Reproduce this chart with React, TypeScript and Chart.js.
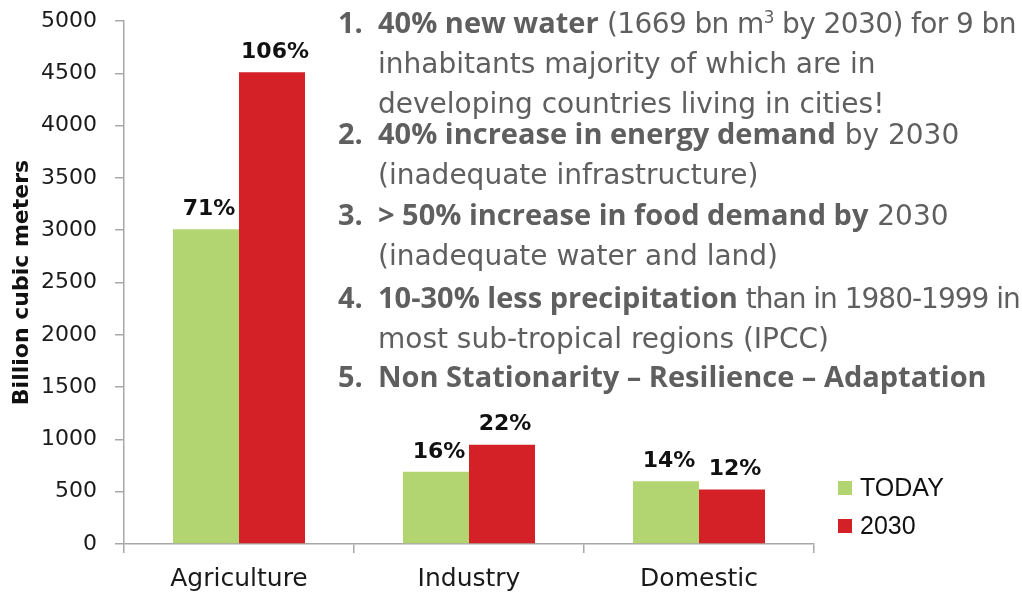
import React, { useEffect, useRef } from "react";
import { Chart, registerables } from "chart.js";

Chart.register(...registerables);

// ---- data ----
const categories = ["Agriculture", "Industry", "Domestic"];
const seriesNames = ["TODAY", "2030"];
const todayValues = [3010, 690, 600];
const year2030Values = [4510, 950, 520];
const todayShares = ["71%", "16%", "14%"];
const year2030Shares = ["106%", "22%", "12%"];
const yMin = 0;
const yMax = 5000;
const yStep = 500;

const GREEN = "#b2d572";
const RED = "#d42027";
const AXIS = "#a8a8a8";
const TEXT_GRAY = "#5f5f5f";

const shareLabels = [todayShares, year2030Shares];

const barLabelPlugin = {
  id: "barLabels",
  afterDatasetsDraw(chart: any) {
    const ctx = chart.ctx;
    ctx.save();
    ctx.font = "bold 22px 'DejaVu Sans'";
    ctx.fillStyle = "#111111";
    ctx.textAlign = "center";
    ctx.textBaseline = "middle";
    chart.data.datasets.forEach((_ds: any, di: number) => {
      const meta = chart.getDatasetMeta(di);
      meta.data.forEach((el: any, i: number) => {
        const txt = shareLabels[di][i];
        ctx.fillText(txt, el.x + 3, el.y - 20);
      });
    });
    ctx.restore();
  },
};

const legendPlugin = {
  id: "customLegend",
  afterDraw(chart: any) {
    const ctx = chart.ctx;
    const area = chart.chartArea;
    const x0 = area.right + 24;
    const rows = [area.bottom - 56, area.bottom - 18];
    ctx.save();
    ctx.font = "25px 'Liberation Sans'";
    ctx.textBaseline = "middle";
    ctx.textAlign = "left";
    chart.data.datasets.forEach((ds: any, di: number) => {
      const cy = rows[di];
      ctx.fillStyle = ds.backgroundColor;
      ctx.fillRect(x0, cy - 7, 14, 14);
      ctx.fillStyle = "#111111";
      ctx.fillText(ds.label, x0 + 22, cy + 1);
    });
    ctx.restore();
  },
};

const regular = { fontFamily: "'DejaVu Sans'", fontWeight: 400, fontSize: 28 } as const;
const bold = { fontFamily: "'Open Sans'", fontWeight: 700, fontSize: 29 } as const;

function Item(props: { num: string; top: number; children: React.ReactNode }) {
  return (
    <div
      style={{
        position: "absolute",
        left: 338,
        top: props.top,
        display: "flex",
        whiteSpace: "nowrap",
        color: TEXT_GRAY,
        lineHeight: "36px",
      }}
    >
      <span style={{ ...bold, width: 40, display: "inline-block" }}>{props.num}</span>
      <div>{props.children}</div>
    </div>
  );
}

export default function App() {
  const canvasRef = useRef<HTMLCanvasElement | null>(null);

  useEffect(() => {
    const canvas = canvasRef.current;
    if (!canvas) return;
    const chart = new Chart(canvas, {
      type: "bar",
      data: {
        labels: categories,
        datasets: [
          {
            label: seriesNames[0],
            data: todayValues,
            backgroundColor: GREEN,
            borderWidth: 0,
            categoryPercentage: 0.574,
            barPercentage: 1,
          },
          {
            label: seriesNames[1],
            data: year2030Values,
            backgroundColor: RED,
            borderWidth: 0,
            categoryPercentage: 0.574,
            barPercentage: 1,
          },
        ],
      },
      options: {
        responsive: false,
        devicePixelRatio: 1,
        animation: false,
        layout: { padding: { top: 21, right: 208, bottom: 0, left: 0 } },
        plugins: {
          legend: { display: false },
          tooltip: { enabled: false },
          title: { display: false },
        },
        scales: {
          x: {
            type: "category",
            offset: true,
            grid: {
              offset: true,
              drawOnChartArea: false,
              drawTicks: true,
              tickLength: 9,
              color: AXIS,
              lineWidth: 1.5,
            },
            border: { display: true, color: AXIS, width: 1.5 },
            ticks: {
              font: { family: "'DejaVu Sans'", size: 25 },
              color: "#1a1a1a",
              padding: 11,
              maxRotation: 0,
            },
            afterFit: (scale: any) => {
              scale.height = 52;
            },
          },
          y: {
            min: yMin,
            max: yMax,
            ticks: {
              stepSize: yStep,
              font: { family: "'DejaVu Sans'", size: 22 },
              color: "#1a1a1a",
              padding: 18,
              callback: (v: any) => String(v),
            },
            grid: {
              drawOnChartArea: false,
              drawTicks: true,
              tickLength: 9,
              color: AXIS,
              lineWidth: 1.5,
            },
            border: { display: true, color: AXIS, width: 1.5 },
            title: {
              display: true,
              text: "Billion cubic meters",
              font: { family: "'DejaVu Sans'", size: 22, weight: "bold" },
              color: "#111111",
              padding: { top: 9, bottom: 0 },
            },
            afterFit: (scale: any) => {
              scale.width = 124;
              scale.paddingTop = 0;
              scale.paddingBottom = 0;
            },
          },
        },
      },
      plugins: [barLabelPlugin, legendPlugin],
    });
    return () => chart.destroy();
  }, []);

  return (
    <div
      style={{
        position: "fixed",
        left: 0,
        top: 0,
        width: 1022,
        height: 596,
        background: "#ffffff",
        overflow: "hidden",
      }}
    >
      <canvas ref={canvasRef} width={1022} height={596} style={{ position: "absolute", left: 0, top: 0 }} />
      <Item num="1." top={4}>
        <span style={bold}>40% new water</span>
        <span style={{ ...regular, letterSpacing: "-0.6px" }}>
          {" "}(1669 bn m<sup style={{ fontSize: "0.6em", lineHeight: 0 }}>3</sup> by 2030) for 9 bn
        </span>
        <br />
        <span style={regular}>inhabitants majority of which are in</span>
        <br />
        <span style={regular}>developing countries living in cities!</span>
      </Item>
      <Item num="2." top={115}>
        <span style={bold}>40% increase in energy demand</span>
        <span style={regular}> by 2030</span>
        <br />
        <span style={regular}>(inadequate infrastructure)</span>
      </Item>
      <Item num="3." top={196}>
        <span style={bold}>&gt; 50% increase in food demand by</span>
        <span style={regular}> 2030</span>
        <br />
        <span style={regular}>(inadequate water and land)</span>
      </Item>
      <Item num="4." top={279}>
        <span style={bold}>10-30% less precipitation</span>
        <span style={{ ...regular, letterSpacing: "-1px" }}> than in 1980-1999 in</span>
        <br />
        <span style={regular}>most sub-tropical regions (IPCC)</span>
      </Item>
      <Item num="5." top={358}>
        <span style={bold}>Non Stationarity – Resilience – Adaptation</span>
      </Item>
    </div>
  );
}
